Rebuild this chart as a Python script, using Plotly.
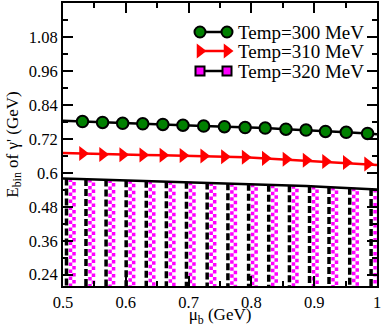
import plotly.graph_objects as go

# ---- data ----
mu_b = [0.5, 0.531, 0.563, 0.595, 0.627, 0.659, 0.691, 0.724, 0.757, 0.790,
        0.822, 0.855, 0.887, 0.918, 0.951, 0.985, 1.0]
e_300 = [0.784, 0.781, 0.778, 0.775, 0.773, 0.771, 0.768, 0.765, 0.763, 0.760,
         0.758, 0.754, 0.751, 0.746, 0.743, 0.739, 0.736]
e_310 = [0.670, 0.668, 0.665, 0.664, 0.663, 0.662, 0.661, 0.659, 0.657, 0.655,
         0.651, 0.648, 0.644, 0.640, 0.636, 0.631, 0.628]
e_320 = [0.580, 0.578, 0.576, 0.574, 0.572, 0.570, 0.568, 0.566, 0.563, 0.561,
         0.558, 0.556, 0.553, 0.550, 0.547, 0.543, 0.541]
names = ["Temp=300 MeV", "Temp=310 MeV", "Temp=320 MeV"]
x_tickvals = [0.5, 0.6, 0.7, 0.8, 0.9, 1.0]
x_ticktext = ["0.5", "0.6", "0.7", "0.8", "0.9", "1"]
y_tickvals = [0.24, 0.36, 0.48, 0.6, 0.72, 0.84, 0.96, 1.08]
y_ticktext = ["0.24", "0.36", "0.48", "0.6", "0.72", "0.84", "0.96", "1.08"]

# ---- layout constants ----
W, H = 382, 327
ML, MR, MT, MB = 63, 5, 3, 41
XR = [0.5, 1.0]
YR = [0.2, 1.2]
px_x = (XR[1] - XR[0]) / (W - ML - MR)   # data units per pixel
FONT = "Liberation Serif"

fig = go.Figure()

# --- Temp=320: patterned area under the curve, built as drop columns at each point ---
def drop_cols(offset_px):
    xs, ys = [], []
    for xv, yv in zip(mu_b[:-1], e_320[:-1]):
        xs += [xv + offset_px * px_x, xv + offset_px * px_x, None]
        ys += [yv, 0.0, None]
    return xs, ys

bx, by = drop_cols(3.5)
fig.add_trace(go.Scatter(x=bx, y=by, mode="lines", showlegend=False, hoverinfo="skip",
                         line=dict(color="black", width=3.5, dash="7px,3px")))
mx1, my1 = drop_cols(7.5)
fig.add_trace(go.Scatter(x=mx1, y=my1, mode="lines", showlegend=False, hoverinfo="skip",
                         line=dict(color="#ff00ff", width=3.5, dash="3.5px,3.5px")))
mx2, my2 = drop_cols(11.0)
fig.add_trace(go.Scatter(x=mx2, y=my2, mode="lines", showlegend=False, hoverinfo="skip",
                         line=dict(color="#ff00ff", width=3.5, dash="0px,3.5px,3.5px,0px")))
fig.add_trace(go.Scatter(x=mu_b, y=e_320, mode="lines", showlegend=False, hoverinfo="skip",
                         line=dict(color="black", width=2.5)))

# --- Temp=300 ---
fig.add_trace(go.Scatter(x=mu_b, y=e_300, mode="lines", showlegend=False, hoverinfo="skip",
                         line=dict(color="black", width=2.5)))
fig.add_trace(go.Scatter(x=mu_b[1:-1], y=e_300[1:-1], mode="markers", showlegend=False,
                         marker=dict(symbol="circle", size=11.5, color="#008000",
                                     line=dict(color="black", width=2))))
# --- Temp=310 ---
fig.add_trace(go.Scatter(x=mu_b, y=e_310, mode="lines", showlegend=False, hoverinfo="skip",
                         line=dict(color="#ff0000", width=2.5)))
fig.add_trace(go.Scatter(x=mu_b[1:-1], y=e_310[1:-1], mode="markers", showlegend=False,
                         marker=dict(symbol="triangle-right", size=13, color="#ff0000",
                                     line=dict(width=0))))

# ---- legend drawn on an overlay axis measured in page pixels ----
leg_rows_y = [32, 51, 71]
leg_x0, leg_x1, leg_text_x = 200, 227, 236
leg_styles = [
    dict(line=dict(color="black", width=2.5),
         marker=dict(symbol="circle", size=11, color="#008000", line=dict(color="black", width=2))),
    dict(line=dict(color="#ff0000", width=2.5),
         marker=dict(symbol="triangle-right", size=13, color="#ff0000", line=dict(width=0))),
    dict(line=dict(color="black", width=2.5),
         marker=dict(symbol="square", size=9, color="#ff00ff", line=dict(color="black", width=2))),
]
for name, ry, st in zip(names, leg_rows_y, leg_styles):
    fig.add_trace(go.Scatter(x=[leg_x0, leg_x1], y=[ry, ry], xaxis="x2", yaxis="y2",
                             mode="lines+markers", showlegend=False, hoverinfo="skip", **st))
    fig.add_annotation(x=leg_text_x, y=ry, xref="x2", yref="y2", text=name,
                       showarrow=False, xanchor="left", yanchor="middle",
                       font=dict(family=FONT, size=19, color="black"))

axis_common = dict(showline=True, linecolor="black", linewidth=2, mirror="ticks",
                   ticks="inside", tickcolor="black", tickwidth=1.5, ticklen=10,
                   showgrid=False, zeroline=False, automargin=False,
                   tickfont=dict(family=FONT, size=16.5, color="black"))

fig.update_layout(xaxis=dict(range=XR, tickvals=x_tickvals, ticktext=x_ticktext,
                             minor=dict(ticks="inside", ticklen=5, tickwidth=1.5, tickcolor="black",
                                        dtick=0.05, tick0=0.5, showgrid=False),
                             title=dict(text="μ<sub>b</sub> (GeV)", standoff=0,
                                        font=dict(family=FONT, size=17, color="black")),
                             **axis_common),
                  yaxis=dict(range=YR, tickvals=y_tickvals, ticktext=y_ticktext,
                             minor=dict(ticks="inside", ticklen=5, tickwidth=1.5, tickcolor="black",
                                        dtick=0.06, tick0=0.24, showgrid=False),
                             title=dict(text="E<sub>bin</sub> of γ' (GeV)", standoff=6,
                                        font=dict(family=FONT, size=17, color="black")),
                             **axis_common),
                  xaxis2=dict(overlaying="x", range=[ML, W - MR], visible=False,
                              fixedrange=True),
                  yaxis2=dict(overlaying="y", range=[H - MB, MT], visible=False,
                              fixedrange=True))

fig.update_layout(
    width=W, height=H,
    margin=dict(l=ML, r=MR, t=MT, b=MB, pad=0),
    paper_bgcolor="white", plot_bgcolor="white",
    showlegend=False,
)

fig.write_html("out.html", config={"displayModeBar": False},
               post_script="document.body.style.margin='0';document.body.style.padding='0';")
